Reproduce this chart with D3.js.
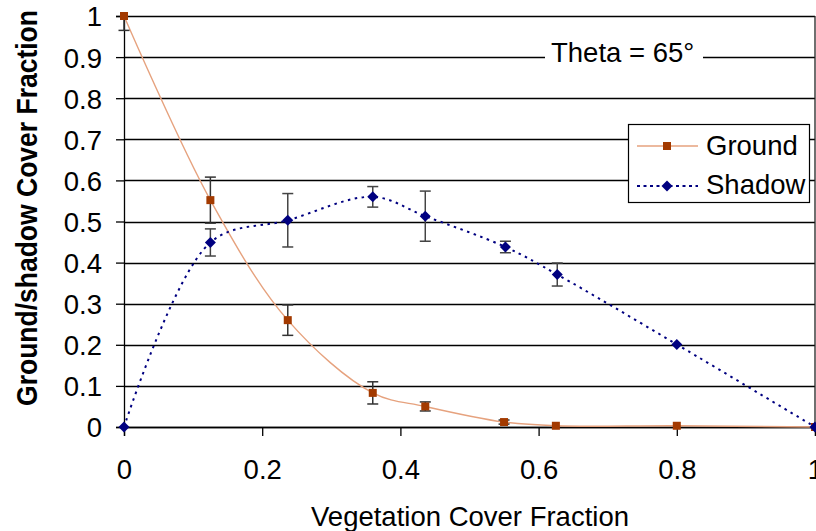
<!DOCTYPE html>
<html><head><meta charset="utf-8">
<script src="https://cdn.jsdelivr.net/npm/d3@7"></script>
<style>
html,body{margin:0;padding:0;background:#fff;}
svg{display:block;font-family:"Liberation Sans",Arial,sans-serif;}
</style></head>
<body>
<svg id="chart" width="816" height="531"></svg>
<script>
// ---- data ----
const groundX = [0, 0.125, 0.237, 0.36, 0.436, 0.55, 0.625, 0.8, 1];
const groundY = [1, 0.552, 0.26, 0.083, 0.05, 0.012, 0.003, 0.003, 0];
const groundErr = [0.035, 0.056, 0.037, 0.027, 0.011, 0.005, 0, 0, 0];
const shadowX = [0, 0.125, 0.237, 0.36, 0.436, 0.552, 0.627, 0.8, 1];
const shadowY = [0, 0.449, 0.503, 0.56, 0.513, 0.438, 0.371, 0.201, 0];
const shadowErr = [0, 0.033, 0.065, 0.025, 0.061, 0.014, 0.028, 0, 0];
const yTicks = [0, 0.1, 0.2, 0.3, 0.4, 0.5, 0.6, 0.7, 0.8, 0.9, 1];
const xTicks = [0, 0.2, 0.4, 0.6, 0.8, 1];
const titleText = "Theta = 65°";
const xLabel = "Vegetation Cover Fraction";
const yLabel = "Ground/shadow Cover Fraction";
const seriesNames = ["Ground", "Shadow"];

const groundMarker = "#a33a00", groundLine = "#e6a27e", shadowColor = "#000080";
const FS = 27.5;

const svg = d3.select("#chart");
const x = d3.scaleLinear().domain([0, 1]).range([124, 815]);
const y = d3.scaleLinear().domain([0, 1]).range([427, 16]);

// gridlines
svg.append("g").selectAll("line").data(yTicks).join("line")
  .attr("x1", x(0)).attr("x2", x(1))
  .attr("y1", d => Math.round(y(d)) + 0.5).attr("y2", d => Math.round(y(d)) + 0.5)
  .attr("stroke", "#000").attr("stroke-width", 1.3);

// right border
svg.append("line").attr("x1", x(1)).attr("x2", x(1)).attr("y1", y(1)).attr("y2", y(0))
  .attr("stroke", "#222").attr("stroke-width", 1.3);

// y axis
const yAxis = d3.axisLeft(y).tickValues(yTicks).tickSize(8).tickPadding(14)
  .tickFormat(d => d3.format("~g")(d));
const gy = svg.append("g").attr("transform", `translate(${x(0)},0)`).call(yAxis);
gy.select(".domain").attr("stroke", "#000").attr("stroke-width", 1.3);
gy.selectAll(".tick line").attr("stroke", "#000").attr("stroke-width", 1.3);
gy.selectAll("text").attr("font-size", FS).attr("fill", "#000")
  .attr("font-family", "'Liberation Sans',Arial,sans-serif").attr("dy", "0.36em");

// x axis
const xAxis = d3.axisBottom(x).tickValues(xTicks).tickSize(9).tickPadding(23)
  .tickFormat(d => d3.format("~g")(d));
const gx = svg.append("g").attr("transform", `translate(0,${y(0)})`).call(xAxis);
gx.select(".domain").attr("stroke", "#000").attr("stroke-width", 1.3);
gx.selectAll(".tick line").attr("stroke", "#000").attr("stroke-width", 1.3);
gx.selectAll("text").attr("font-size", FS).attr("fill", "#000")
  .attr("font-family", "'Liberation Sans',Arial,sans-serif").attr("dy", "0.71em");

// axis titles
svg.append("text").attr("x", 470).attr("y", 526).attr("text-anchor", "middle")
  .attr("font-size", FS).text(xLabel);
svg.append("text").attr("transform", "translate(37,208) rotate(-90) scale(1,1.1)")
  .attr("text-anchor", "middle").attr("font-size", 26.5).attr("font-weight", "bold").text(yLabel);

// clip for error bars
svg.append("clipPath").attr("id", "clip").append("rect")
  .attr("x", 0).attr("y", y(1) - 1).attr("width", 816).attr("height", y(0) - y(1) + 6);

const line = d3.line().x(d => x(d[0])).y(d => y(d[1])).curve(d3.curveCatmullRom.alpha(0.5));
const gData = groundX.map((v, i) => [v, groundY[i], groundErr[i]]);
const sData = shadowX.map((v, i) => [v, shadowY[i], shadowErr[i]]);

function errorBars(data, color) {
  const g = svg.append("g").attr("clip-path", "url(#clip)");
  data.filter(d => d[2] > 0).forEach(d => {
    const cx = x(d[0]), top = y(d[1] + d[2]), bot = y(d[1] - d[2]);
    g.append("line").attr("x1", cx).attr("x2", cx).attr("y1", top).attr("y2", bot)
      .attr("stroke", color).attr("stroke-width", 1.5);
    [top, bot].forEach(yy => g.append("line").attr("x1", cx - 5.5).attr("x2", cx + 5.5)
      .attr("y1", yy).attr("y2", yy).attr("stroke", color).attr("stroke-width", 1.5));
  });
}

// ground line
svg.append("path").datum(gData).attr("d", line).attr("fill", "none")
  .attr("stroke", groundLine).attr("stroke-width", 1.4);
// shadow line
svg.append("path").datum(sData).attr("d", line).attr("fill", "none")
  .attr("stroke", shadowColor).attr("stroke-width", 2).attr("stroke-dasharray", "2.5,4.5");

errorBars(gData, "#333");
errorBars(sData, "#444");

// markers
svg.append("g").selectAll("rect").data(gData).join("rect")
  .attr("x", d => x(d[0]) - 4).attr("y", d => y(d[1]) - 4).attr("width", 8).attr("height", 8)
  .attr("fill", groundMarker);
const diamond = "M0,-5.5L5.5,0L0,5.5L-5.5,0Z";
svg.append("g").selectAll("path").data(sData).join("path")
  .attr("transform", d => `translate(${x(d[0])},${y(d[1])})`).attr("d", diamond)
  .attr("fill", shadowColor);

// title with white background
svg.append("rect").attr("x", 545).attr("y", 42).attr("width", 158).attr("height", 26).attr("fill", "#fff");
svg.append("text").attr("x", 551).attr("y", 62).attr("font-size", FS).text(titleText);

// legend
const lg = svg.append("g");
lg.append("rect").attr("x", 628.5).attr("y", 124.5).attr("width", 181).attr("height", 78)
  .attr("fill", "#fff").attr("stroke", "#000").attr("stroke-width", 1.2);
lg.append("line").attr("x1", 637).attr("x2", 698).attr("y1", 146).attr("y2", 146)
  .attr("stroke", groundLine).attr("stroke-width", 1.4);
lg.append("rect").attr("x", 663).attr("y", 142).attr("width", 8).attr("height", 8).attr("fill", groundMarker);
lg.append("line").attr("x1", 637).attr("x2", 698).attr("y1", 186).attr("y2", 186)
  .attr("stroke", shadowColor).attr("stroke-width", 2).attr("stroke-dasharray", "3,3.5");
lg.append("path").attr("transform", "translate(667,186)").attr("d", diamond).attr("fill", shadowColor);
lg.append("text").attr("x", 706).attr("y", 155).attr("font-size", FS).text(seriesNames[0]);
lg.append("text").attr("x", 706).attr("y", 194).attr("font-size", FS).text(seriesNames[1]);
</script>
</body></html>
